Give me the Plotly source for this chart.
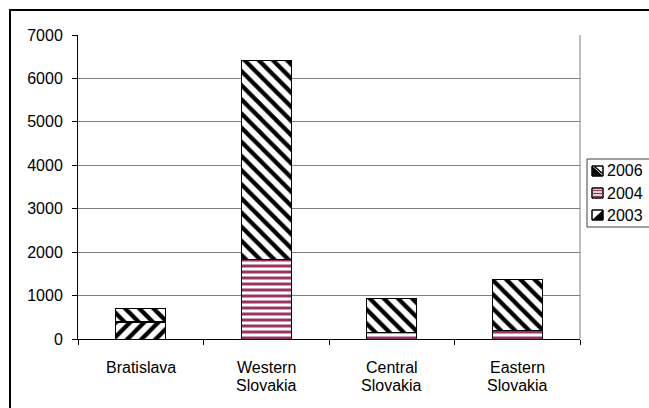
import plotly.graph_objects as go

# Regional figures by year (stacked)
regions = ["Bratislava", "Western Slovakia", "Central Slovakia", "Eastern Slovakia"]
v2003 = [380, 0, 0, 0]
v2004 = [30, 1840, 140, 200]
v2006 = [300, 4580, 800, 1160]
y_ticks = [0, 1000, 2000, 3000, 4000, 5000, 6000, 7000]
legend_years = ["2006", "2004", "2003"]

W, H = 649, 408
L, R, T, B = 78, 69, 35, 69
pw = W - L - R
ph = H - T - B
FONT = 16


def px(x):
    return (x - L) / pw


def py(y):
    return (H - B - y) / ph


hatch = {
    "2003": dict(shape="/", fgcolor="#000000", bgcolor="white", size=10, solidity=0.42, fgopacity=1),
    "2004": dict(shape="-", fgcolor="#993366", bgcolor="white", size=6, solidity=0.5, fgopacity=1),
    "2006": dict(shape="\\", fgcolor="#000000", bgcolor="white", size=10, solidity=0.42, fgopacity=1),
}

fig = go.Figure()
for name, vals in (("2003", v2003), ("2004", v2004), ("2006", v2006)):
    fig.add_trace(go.Bar(
        x=regions, y=vals, name=name, showlegend=False,
        marker=dict(color="white", line=dict(color="black", width=1),
                    pattern=hatch[name]),
    ))

shapes = [
    # right edge of plot area
    dict(type="line", xref="paper", yref="paper", x0=1, x1=1, y0=0, y1=1,
         line=dict(color="#808080", width=1)),
    # outer chart frame
    dict(type="rect", xref="paper", yref="paper",
         x0=px(10), x1=px(W + 20), y0=py(H + 20), y1=py(10),
         line=dict(color="black", width=2)),
    # legend box
    dict(type="rect", xref="paper", yref="paper",
         x0=px(587), x1=px(W + 10), y0=py(227), y1=py(159),
         line=dict(color="#404040", width=1), fillcolor="white", layer="above"),
]
annotations = []

# category labels, wrapped onto two lines with tight spacing
for reg in regions:
    words = reg.split(" ")
    for j, w in enumerate(words):
        annotations.append(dict(xref="x", yref="paper", x=reg, y=py(367.5 + j * 17.5),
                                xanchor="center", yanchor="middle", text=w, showarrow=False,
                                font=dict(size=FONT, color="black")))

# legend entries: swatch + label
sx0, sx1 = 592, 603
for i, yr in enumerate(legend_years):
    cy = 171 + i * 22
    y0, y1 = cy - 5, cy + 5
    shapes.append(dict(type="rect", xref="paper", yref="paper",
                       x0=px(sx0), x1=px(sx1), y0=py(y1), y1=py(y0),
                       fillcolor="white", line=dict(color="black", width=1), layer="above"))
    if yr == "2004":
        for yy in (cy - 2.5, cy + 0.5, cy + 3.5):
            shapes.append(dict(type="line", xref="paper", yref="paper",
                               x0=px(sx0 + 1), x1=px(sx1 - 1), y0=py(yy), y1=py(yy),
                               line=dict(color="#993366", width=1.5), layer="above"))
    elif yr == "2003":
        shapes.append(dict(type="path", xref="paper", yref="paper",
                           path=f"M {px(sx0)} {py(y1)} L {px(sx1)} {py(y0)} L {px(sx1)} {py(y1)} Z",
                           fillcolor="black", line=dict(width=0), layer="above"))
    else:
        shapes.append(dict(type="path", xref="paper", yref="paper",
                           path=f"M {px(sx0)} {py(y0)} L {px(sx1)} {py(y1)} L {px(sx0)} {py(y1)} Z",
                           fillcolor="black", line=dict(width=0), layer="above"))
        shapes.append(dict(type="line", xref="paper", yref="paper",
                           x0=px(sx0 + 2.5), x1=px(sx1 - 0.5), y0=py(y0 + 0.5), y1=py(y1 - 2.5),
                           line=dict(color="black", width=1.5), layer="above"))
    shapes.append(dict(type="rect", xref="paper", yref="paper",
                       x0=px(sx0), x1=px(sx1), y0=py(y1), y1=py(y0),
                       line=dict(color="black", width=1), layer="above"))
    annotations.append(dict(xref="paper", yref="paper", x=px(605), y=py(cy),
                            xanchor="left", yanchor="middle", text=yr, showarrow=False,
                            font=dict(size=FONT, color="black")))

fig.update_layout(
    width=W, height=H,
    margin=dict(l=L, r=R, t=T, b=B, autoexpand=False),
    barmode="stack", bargap=0.6,
    paper_bgcolor="white", plot_bgcolor="white",
    font=dict(family="Liberation Sans, Arial, sans-serif", size=FONT, color="black"),
    showlegend=False,
    xaxis=dict(
        showline=True, linecolor="black", linewidth=1,
        ticks="outside", ticklen=5, tickcolor="black", tickson="boundaries",
        showticklabels=False,
        showgrid=False, zeroline=False, fixedrange=True,
    ),
    yaxis=dict(
        range=[0, 7000], tickvals=y_ticks,
        showline=True, linecolor="black", linewidth=1,
        ticks="outside", ticklen=5, tickcolor="black", ticklabelstandoff=6,
        showgrid=True, gridcolor="#808080", gridwidth=1, zeroline=False,
    ),
    shapes=shapes,
    annotations=annotations,
)

fig.write_html("out.html")
